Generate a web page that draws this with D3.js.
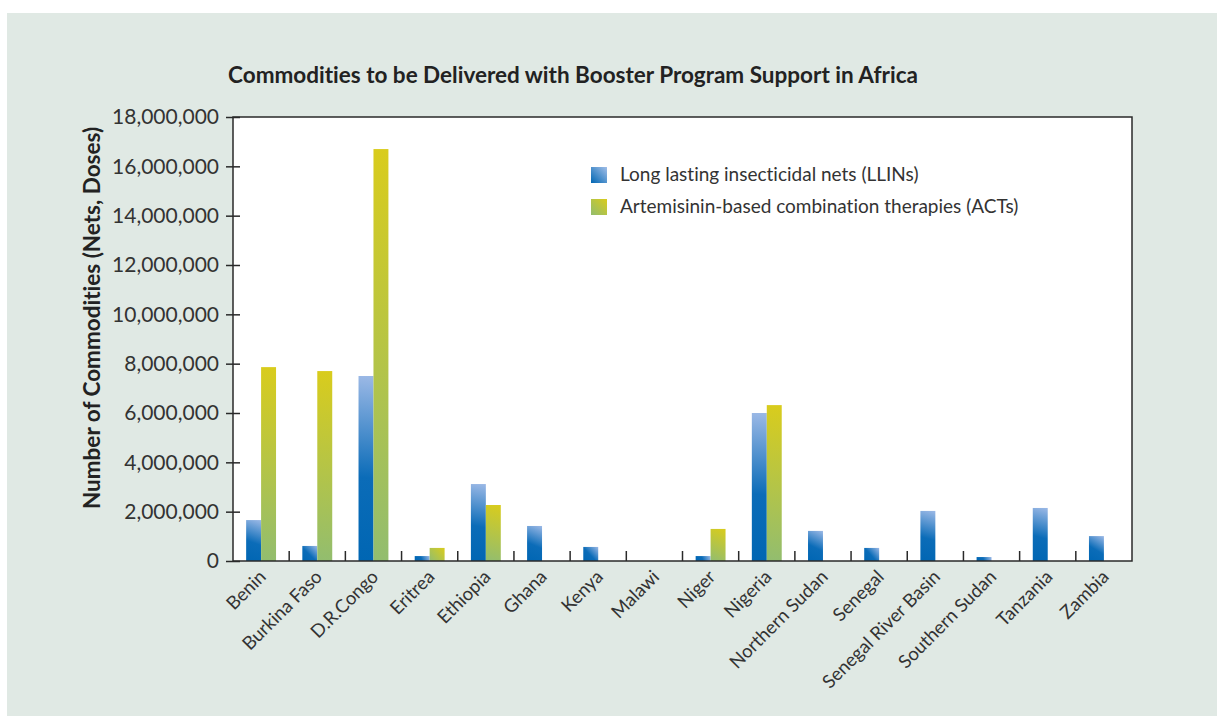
<!DOCTYPE html>
<html>
<head>
<meta charset="utf-8">
<script src="https://cdn.jsdelivr.net/npm/d3@7"></script>
<style>
body {
  margin: 0;
  background: #ffffff;
}
text {
  font-family: Lato, "Open Sans", sans-serif;
  font-variant-ligatures: none;
  fill: #333333;
}
.title {
  font-weight: bold;
  font-size: 22.5px;
  fill: #222222;
}
.yTitle {
  font-weight: bold;
  font-size: 22.5px;
  fill: #222222;
}
.axis text {
  font-size: 21px;
}
.xlabel {
  font-size: 18.5px;
}
.legend text {
  font-size: 19px;
}
</style>
</head>
<body>
<div id="plot"></div>

<script>
// chart values
var countries = ["Benin", "Burkina Faso", "D.R.Congo", "Eritrea", "Ethiopia", "Ghana", "Kenya", "Malawi",
  "Niger", "Nigeria", "Northern Sudan", "Senegal", "Senegal River Basin", "Southern Sudan", "Tanzania", "Zambia"];
var llins = [1660000, 610000, 7500000, 200000, 3120000, 1420000, 570000, 0,
  200000, 6000000, 1220000, 530000, 2030000, 160000, 2150000, 1010000];
var acts = [7860000, 7700000, 16700000, 530000, 2270000, 0, 0, 0,
  1300000, 6320000, 0, 0, 0, 0, 0, 0];
var seriesNames = ["Long lasting insecticidal nets (LLINs)", "Artemisinin-based combination therapies (ACTs)"];
var yTicks = [0, 2000000, 4000000, 6000000, 8000000, 10000000, 12000000, 14000000, 16000000, 18000000];

var W = 1217, H = 717;
var margin = {top: 117, right: 85, bottom: 156, left: 233};

// gradient colour stops for each series
var stopSets = [
  [[0, '#9cb9e6'], [0.55, '#0b6cb8'], [1, '#0066b3']],
  [[0, '#d9cc1c'], [1, '#92bd6f']]
];
var legendStops = [
  [[0, '#a3bfe8'], [1, '#0066b3']],
  [[0, '#d9cc1c'], [1, '#92bd6f']]
];

var svg = d3.select('#plot')
  .append('svg')
  .attr('width', W)
  .attr('height', H);

var defs = svg.append('defs');

//makes a gradient running from the top right corner to the bottom left corner of a box
function addGradient(id, stops, x0, y0, w, h){
  var g = defs.append('linearGradient')
    .attr('id', id)
    .attr('gradientUnits', 'userSpaceOnUse')
    .attr('x1', x0 + w).attr('y1', y0)
    .attr('x2', x0).attr('y2', y0 + h);
  stops.forEach(function(s){
    g.append('stop').attr('offset', s[0]).attr('stop-color', s[1]);
  });
  return 'url(#' + id + ')';
}

// background panel
svg.append('rect')
  .attr('x', 7)
  .attr('y', 13)
  .attr('width', W - 7)
  .attr('height', H - 14)
  .attr('fill', '#e0e9e4');

var x = d3.scaleBand()
  .domain(countries)
  .range([margin.left, W - margin.right])
  .paddingInner(0)
  .paddingOuter(0);

var x1 = d3.scaleBand()
  .domain([0, 1])
  .range([0, x.bandwidth()])
  .paddingOuter(0.88)
  .paddingInner(0);

var y = d3.scaleLinear()
  .domain([0, 18000000])
  .range([H - margin.bottom, margin.top]);

// plot area
svg.append('rect')
  .attr('x', margin.left)
  .attr('y', margin.top)
  .attr('width', W - margin.right - margin.left)
  .attr('height', H - margin.bottom - margin.top)
  .attr('fill', '#ffffff');

// bars
var barData = [];
countries.forEach(function(c, i){
  [llins[i], acts[i]].forEach(function(v, j){
    if(v > 0){
      barData.push({country: c, series: j, value: v, id: 'g' + i + '_' + j});
    }
  });
});

svg.selectAll('.bar')
  .data(barData)
  .enter().append('rect')
  .attr('class', 'bar')
  .attr('x', function(d){ return x(d.country) + x1(d.series); })
  .attr('y', function(d){ return y(d.value); })
  .attr('width', x1.bandwidth())
  .attr('height', function(d){ return y(0) - y(d.value); })
  .attr('fill', function(d){
    return addGradient(d.id, stopSets[d.series], x(d.country) + x1(d.series), y(d.value), x1.bandwidth(), y(0) - y(d.value));
  });

// border
svg.append('rect')
  .attr('x', margin.left)
  .attr('y', margin.top)
  .attr('width', W - margin.right - margin.left)
  .attr('height', H - margin.bottom - margin.top)
  .attr('fill', 'none')
  .attr('stroke', '#2a2a2a')
  .attr('stroke-width', 1.5);

// y axis
var yAxis = d3.axisLeft()
  .scale(y)
  .tickValues(yTicks)
  .tickFormat(d3.format(','))
  .tickSizeOuter(0)
  .tickSize(7)
  .tickPadding(7);

var yg = svg.append('g')
  .attr('class', 'y axis')
  .attr('transform', 'translate(' + margin.left + ',0)')
  .call(yAxis);
yg.select('.domain').remove();
yg.selectAll('.tick line')
  .attr('x1', 7)
  .attr('stroke', '#2a2a2a')
  .attr('stroke-width', 1.5);
yg.selectAll('.tick text')
  .attr('fill', '#333333')
  .style('font-family', 'Lato, sans-serif');

// x ticks at category boundaries
svg.selectAll('.xtick')
  .data(countries.slice(1))
  .enter().append('line')
  .attr('class', 'xtick')
  .attr('x1', function(d){ return x(d); })
  .attr('x2', function(d){ return x(d); })
  .attr('y1', y(0))
  .attr('y2', y(0) - 10)
  .attr('stroke', '#2a2a2a')
  .attr('stroke-width', 1.5);

// x labels
svg.selectAll('.xlabel')
  .data(countries)
  .enter().append('text')
  .attr('class', 'xlabel')
  .attr('text-anchor', 'end')
  .attr('transform', function(d){
    return 'translate(' + (x(d) + x.bandwidth() / 2 + 6) + ',' + (y(0) + 17) + ') rotate(-45)';
  })
  .text(function(d){ return d; });

// titles
svg.append('text')
  .attr('class', 'title')
  .attr('x', 573)
  .attr('y', 83)
  .attr('text-anchor', 'middle')
  .text('Commodities to be Delivered with Booster Program Support in Africa');

svg.append('text')
  .attr('class', 'yTitle')
  .attr('text-anchor', 'middle')
  .attr('transform', 'translate(100,318) rotate(-90)')
  .text('Number of Commodities (Nets, Doses)');

// legend
var legend = svg.selectAll('.legend')
  .data(seriesNames)
  .enter().append('g')
  .attr('class', 'legend')
  .attr('transform', function(d, i){ return 'translate(591,' + (167 + i * 32) + ')'; });

legend.append('rect')
  .attr('width', 16)
  .attr('height', 16)
  .attr('fill', function(d, i){ return addGradient('leg' + i, legendStops[i], 0, 0, 16, 16); });

legend.append('text')
  .attr('x', 29)
  .attr('y', 14)
  .text(function(d){ return d; });
</script>
</body>
</html>
